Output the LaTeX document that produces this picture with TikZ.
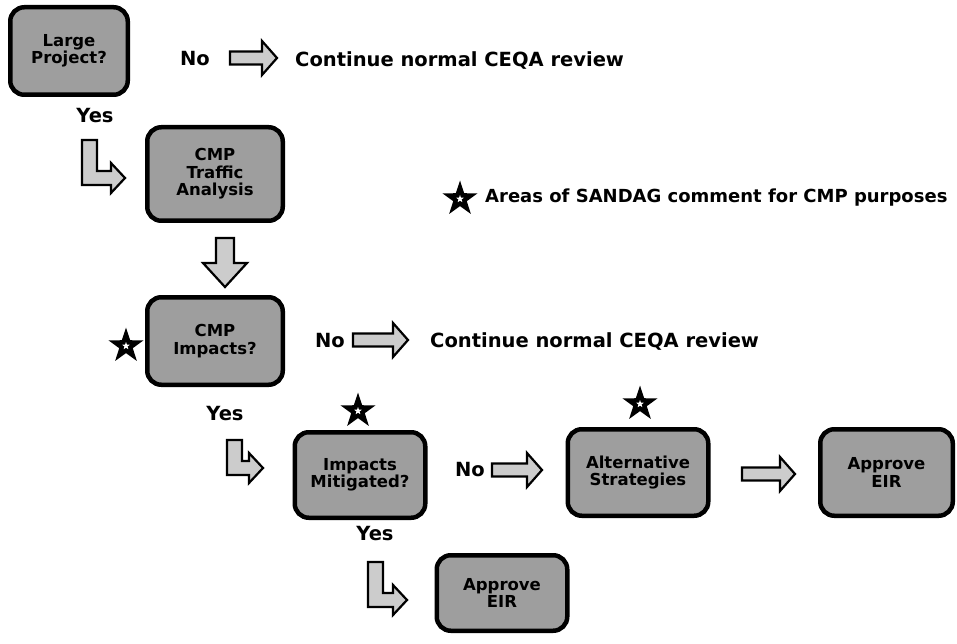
\documentclass[tikz,border=0pt]{standalone}
\usepackage{fontspec}
\setmainfont{DejaVu Sans}
\usetikzlibrary{shapes.geometric,calc}
\newcommand\myboxfont{\fontsize{16.5}{17.5}\selectfont\bfseries}
\newcommand\mylblfont{\fontsize{19.5}{22}\selectfont\bfseries}
\newcommand\mylegfont{\fontsize{18}{20}\selectfont\bfseries}
\newcommand\rblock[2]{\draw[blk] let \p1=(#1), \p2=(#2) in
 (\x1,\y1+6.5) -- (\x2-15,\y1+6.5) -- (\x2-15,\y1+17) -- (\x2,\y1) -- (\x2-15,\y1-17) -- (\x2-15,\y1-6.5) -- (\x1,\y1-6.5) -- cycle;}
\newcommand\dblock[2]{\draw[blk] let \p1=(#1), \p2=(#2) in
 (\x1-9,\y1) -- (\x1+9,\y1) -- (\x1+9,\y2+24) -- (\x1+22,\y2+24) -- (\x1,\y2) -- (\x1-22,\y2+24) -- (\x1-9,\y2+24) -- cycle;}
\newcommand\lblock[2]{\draw[blk] let \p1=(#1), \p2=(#2) in
 (\x1,\y1) -- (\x1+15,\y1) -- (\x1+15,\y2+7) -- (\x2-14,\y2+7) -- (\x2-14,\y2+15) -- (\x2,\y2) -- (\x2-14,\y2-15) -- (\x2-14,\y2-7) -- (\x1,\y2-7) -- cycle;}
\begin{document}
\begin{tikzpicture}[x=1pt,y=-1pt,
 box/.style={draw=black, line width=4.5pt, rounded corners=14pt, fill=black!38, align=center, font=\myboxfont, inner sep=0pt},
 lbl/.style={font=\mylblfont, inner sep=0pt},
 blk/.style={draw=black, line width=2.2pt, fill=black!20, line join=miter},
 starb/.style={star, star points=5, star point ratio=2.6, fill=black, minimum size=37pt, inner sep=0pt},
 starw/.style={star, star points=5, star point ratio=2.4, fill=white, minimum size=8pt, inner sep=0pt},
 ]
\useasboundingbox (0,0) rectangle (957,644);
% boxes
\node[box, minimum width=117.5pt, minimum height=87.5pt] (lp) at (69,51) {Large\\Project?};
\node[box, minimum width=135.5pt, minimum height=93.5pt] (ta) at (215,174) {CMP\\Traffic\\Analysis};
\node[box, minimum width=135.5pt, minimum height=87.5pt] (ci) at (215,341) {CMP\\Impacts?};
\node[box, minimum width=130.5pt, minimum height=85.5pt] (im) at (360,475) {Impacts\\Mitigated?};
\node[box, minimum width=140.5pt, minimum height=86.5pt] (as) at (638,472.5) {Alternative\\Strategies};
\node[box, minimum width=132.5pt, minimum height=86.5pt] (ae1) at (886.5,472.5) {Approve\\EIR};
\node[box, minimum width=130.5pt, minimum height=75.5pt] (ae2) at (502,593) {Approve\\EIR};
% labels
\node[lbl, anchor=base] (no1) at (195,66) {No};
\node[lbl, anchor=base west] (ce1) at (295,67) {Continue normal CEQA review};
\node[lbl, anchor=base] (yes1) at (95,123) {Yes};
\node[lbl, anchor=base] (no2) at (330,347) {No};
\node[lbl, anchor=base west] (ce2) at (430,347) {Continue normal CEQA review};
\node[lbl, anchor=base] (yes2) at (225,420) {Yes};
\node[lbl, anchor=base] (no3) at (470,476) {No};
\node[lbl, anchor=base] (yes3) at (375,540) {Yes};
\node[font=\mylegfont, inner sep=0pt, anchor=base west] (leg) at (485,203) {Areas of SANDAG comment for CMP purposes};
% stars
\node[starb] (s0) at (460,199) {};
\node[starw] at (s0) {};
\node[starb] (s1) at (126,346) {};
\node[starw] at (s1) {};
\node[starb] (s2) at (358,411) {};
\node[starw] at (s2) {};
\node[starb] (s3) at (640,404) {};
\node[starw] at (s3) {};
% arrow end points
\coordinate (a1s) at (230,58);  \coordinate (a1e) at (277,58);
\coordinate (a2s) at (353,340); \coordinate (a2e) at (408,340);
\coordinate (a3s) at (492,470); \coordinate (a3e) at (542,470);
\coordinate (a4s) at (742,474); \coordinate (a4e) at (795,474);
\coordinate (ds) at (225,238);  \coordinate (de) at (225,287);
\coordinate (l1s) at (82,140);  \coordinate (l1e) at (125,178);
\coordinate (l2s) at (227,440); \coordinate (l2e) at (263,468);
\coordinate (l3s) at (368,562); \coordinate (l3e) at (407,600);
\rblock{a1s}{a1e}
\rblock{a2s}{a2e}
\rblock{a3s}{a3e}
\rblock{a4s}{a4e}
\dblock{ds}{de}
\lblock{l1s}{l1e}
\lblock{l2s}{l2e}
\lblock{l3s}{l3e}
\end{tikzpicture}
\end{document}
